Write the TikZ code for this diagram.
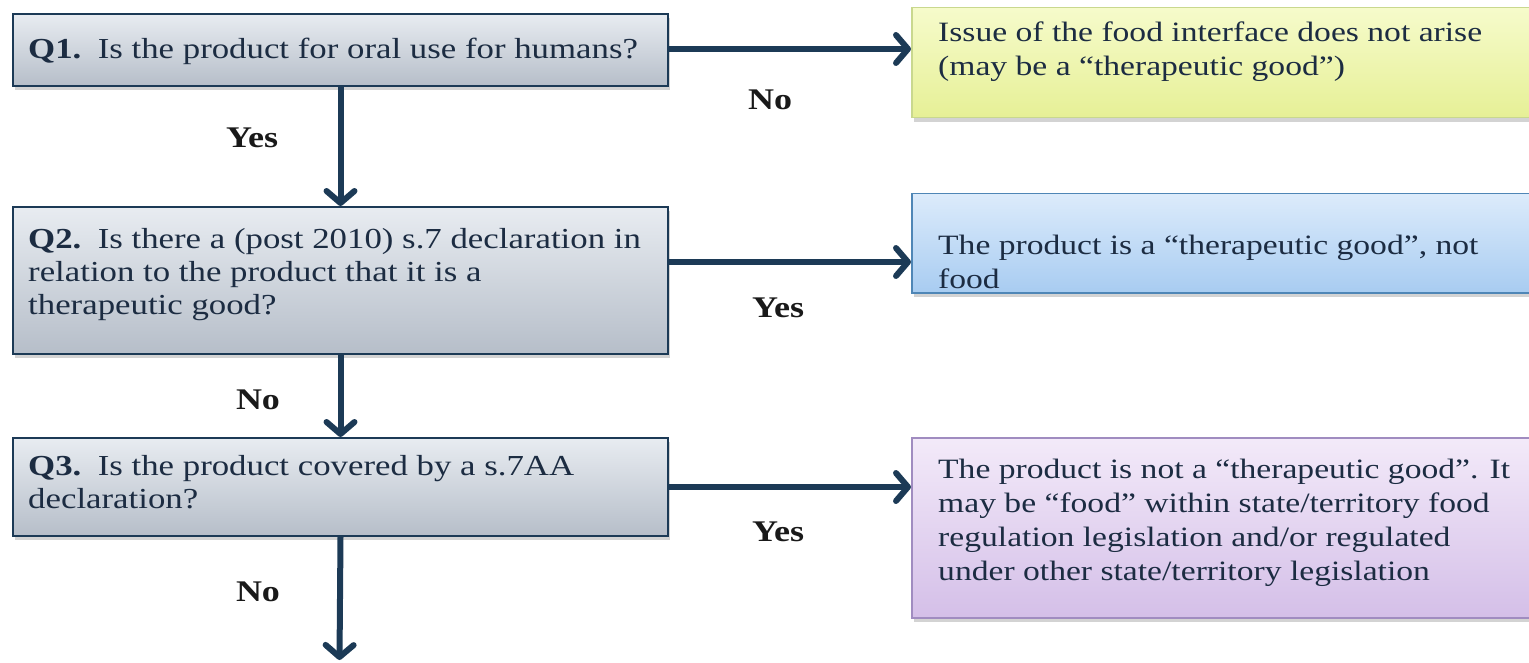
\documentclass[tikz,border=0pt]{standalone}
\usepackage{fontspec}
\setmainfont[FakeStretch=1.2]{Liberation Serif}
\usetikzlibrary{arrows.meta,shadows,calc}
\definecolor{navy}{HTML}{1C3A56}
\definecolor{txt}{HTML}{1C2C42}
\definecolor{qtop}{HTML}{E8ECF1}
\definecolor{qbot}{HTML}{B6BEC9}
\definecolor{ytop}{HTML}{F6FBCB}
\definecolor{ybot}{HTML}{E6F096}
\definecolor{yedge}{HTML}{C9D88E}
\definecolor{btop}{HTML}{DCEBFB}
\definecolor{bbot}{HTML}{A8CCF1}
\definecolor{bedge}{HTML}{4F86B6}
\definecolor{ptop}{HTML}{F3EAF9}
\definecolor{pbot}{HTML}{D4BFE8}
\definecolor{pedge}{HTML}{A08CC0}
\tikzset{
  qbox/.style={draw=navy, line width=2pt, top color=qtop, bottom color=qbot,
    anchor=north west, minimum width=655pt, inner sep=0pt,
    drop shadow={opacity=0.35, shadow xshift=2pt, shadow yshift=-4pt}},
  rbox/.style={line width=1.5pt, anchor=north west, minimum width=640pt, inner sep=0pt,
    drop shadow={opacity=0.35, shadow xshift=2pt, shadow yshift=-4pt}},
  qtext/.style={anchor=west, align=left, text=txt, inner sep=0pt,
    font=\fontsize{29}{33}\selectfont},
  rtext/.style={anchor=north west, align=left, text=txt, inner sep=0pt,
    font=\fontsize{28}{34}\selectfont},
  lab/.style={font=\fontsize{30}{32}\selectfont\bfseries, text=black!90, inner sep=0pt},
  conn/.style={draw=navy, line width=6pt,
    -{Straight Barb[length=12pt,width=28pt,line width=6pt,line cap=round,line join=round]}},
}
\begin{document}
\begin{tikzpicture}[x=1pt,y=1pt]
\useasboundingbox (0,0) rectangle (1529,-663);
% question boxes
\node[qbox, minimum height=72pt] (q1) at (12,-13) {};
\node[qtext] (q1t) at ($(q1.west)+(16,-1)$) {\textbf{Q1.}\, Is the product for oral use for humans?};
\node[qbox, minimum height=147pt] (q2) at (12,-206) {};
\node[qtext] (q2t) at ($(q2.west)+(16,6)$) {\textbf{Q2.}\, Is there a (post 2010) s.7 declaration in\\relation to the product that it is a\\therapeutic good?};
\node[qbox, minimum height=98pt] (q3) at (12,-437) {};
\node[qtext] (q3t) at ($(q3.west)+(16,5)$) {\textbf{Q3.}\, Is the product covered by a s.7AA\\declaration?};
% result boxes
\node[rbox, draw=yedge, top color=ytop, bottom color=ybot, minimum height=110pt] (r1) at (911,-7) {};
\node[rtext] (r1t) at ($(r1.north west)+(27,-15)$) {Issue of the food interface does not arise\\(may be a ``therapeutic good'')};
\node[rbox, draw=bedge, top color=btop, bottom color=bbot, minimum height=99pt] (r2) at (911,-193) {};
\node[rtext] (r2t) at ($(r2.north west)+(27,-42)$) {The product is a ``therapeutic good'', not\\food};
\node[rbox, draw=pedge, top color=ptop, bottom color=pbot, minimum height=180pt] (r3) at (911,-437) {};
\node[rtext] (r3t) at ($(r3.north west)+(27,-22)$) {The product is not a ``therapeutic good''. It\\may be ``food'' within state/territory food\\regulation legislation and/or regulated\\under other state/territory legislation};
% connectors
\coordinate (a1) at ($(q1.north east)+(0,-36)$);
\coordinate (a2) at ($(q2.north east)+(0,-56)$);
\coordinate (a3) at ($(q3.north east)+(0,-50)$);
\coordinate (endpt) at (339.5,-660);
\draw[conn] (a1) -- (a1 -| r1.west);
\draw[conn] (a2) -- (a2 -| r2.west);
\draw[conn] (a3) -- (a3 -| r3.west);
\draw[conn] (q1.south) -- (q2.north);
\draw[conn] (q2.south) -- (q3.north);
\draw[conn] (q3.south) -- (endpt);
% labels
\node[lab] (l1) at (770,-100) {No};
\node[lab] (l2) at (252,-138) {Yes};
\node[lab] (l3) at (778,-308) {Yes};
\node[lab] (l4) at (258,-400) {No};
\node[lab] (l5) at (778,-532) {Yes};
\node[lab] (l6) at (258,-592) {No};
\end{tikzpicture}
\end{document}
